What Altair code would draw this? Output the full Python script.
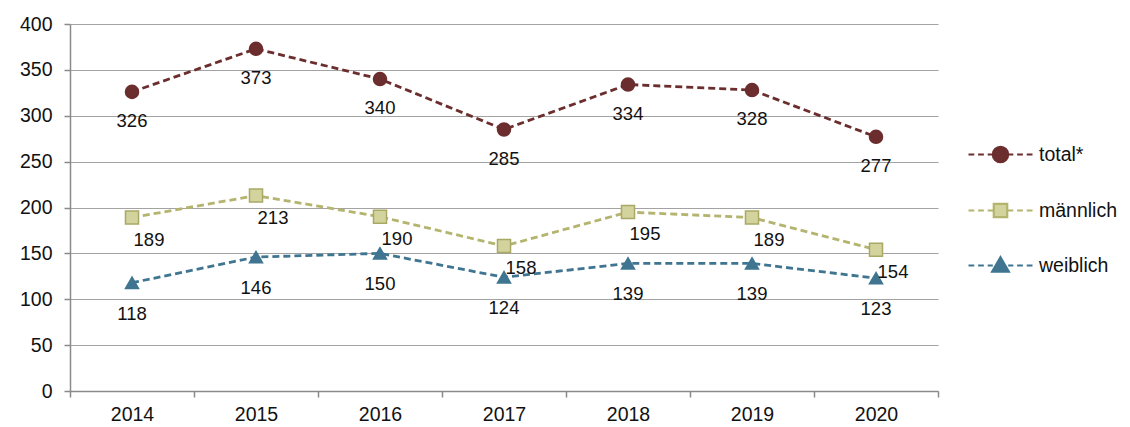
import altair as alt
import pandas as pd

years = ["2014", "2015", "2016", "2017", "2018", "2019", "2020"]
total = [326, 373, 340, 285, 334, 328, 277]
maennlich = [189, 213, 190, 158, 195, 189, 154]
weiblich = [118, 146, 150, 124, 139, 139, 123]
series = ["total*", "männlich", "weiblich"]

line_colors = ["#6b2d2d", "#b4b46f", "#3f7590"]
fill_colors = ["#6b2d2d", "#d3d39d", "#3f7590"]
edge_colors = ["#6b2d2d", "#a9a965", "#3f7590"]

rows = []
for name, vals in zip(series, [total, maennlich, weiblich]):
    for yr, v in zip(years, vals):
        rows.append({"Jahr": yr, "Gruppe": name, "Wert": v, "Legende": name, "Rand": name})
df = pd.DataFrame(rows)

FONT = "Liberation Sans"

x = alt.X("Jahr:N", sort=years,
          scale=alt.Scale(type="band", paddingInner=0, paddingOuter=0),
          axis=alt.Axis(title=None, labelAngle=0, tickBand="extent", grid=False,
                        domainColor="#8a8a8a", domainWidth=1.5, tickColor="#8a8a8a",
                        tickWidth=1.5, tickSize=6, labelPadding=8, labelFontSize=19.5,
                        labelColor="#111111", labelFont=FONT))
y = alt.Y("Wert:Q", scale=alt.Scale(domain=[0, 400]),
          axis=alt.Axis(title=None, values=list(range(0, 401, 50)), grid=True,
                        gridColor="#a3a3a3", gridWidth=1.2, domainColor="#8a8a8a",
                        domainWidth=1.5, tickColor="#8a8a8a", tickWidth=1.5, tickSize=6,
                        labelPadding=12, labelFontSize=19.5, labelColor="#111111",
                        labelFont=FONT))

base = alt.Chart(df)

lines = base.mark_line(strokeDash=[7, 4], strokeWidth=2.8).encode(
    x=x, y=y,
    stroke=alt.Stroke("Gruppe:N", scale=alt.Scale(domain=series, range=line_colors), legend=None),
)

points = base.mark_point(filled=True, size=170, strokeWidth=1.5, opacity=1).encode(
    x=x, y=y,
    shape=alt.Shape("Gruppe:N", scale=alt.Scale(domain=series, range=["circle", "square", "triangle-up"]), legend=None),
    fill=alt.Fill("Gruppe:N", scale=alt.Scale(domain=series, range=fill_colors), legend=None),
    stroke=alt.Stroke("Rand:N", scale=alt.Scale(domain=series, range=edge_colors), legend=None),
)

dash = "M-1,0H-0.82M-0.7,0H-0.52M-0.4,0H-0.24M0.24,0H0.4M0.52,0H0.7M0.82,0H1"
circle = dash + "M-0.24,0A0.24,0.24 0 1,0 0.24,0A0.24,0.24 0 1,0 -0.24,0Z"
square = dash + "M-0.21,-0.21H0.21V0.21H-0.21Z"
triangle = dash + "M0,-0.26L0.26,0.19L-0.26,0.19Z"

leg = alt.Legend(title=None, orient="none", legendX=897, legendY=97, padding=0,
                 symbolSize=4096, symbolStrokeWidth=2.2, symbolOpacity=1,
                 labelFontSize=19.5, labelFont=FONT, labelColor="#111111",
                 labelOffset=5, rowPadding=10)

legend_layer = base.mark_point(filled=True, opacity=0).encode(
    x=x, y=y,
    shape=alt.Shape("Legende:N", scale=alt.Scale(domain=series, range=[circle, square, triangle]), legend=leg),
    fill=alt.Fill("Legende:N", scale=alt.Scale(domain=series, range=fill_colors), legend=leg),
    stroke=alt.Stroke("Legende:N", scale=alt.Scale(domain=series, range=line_colors), legend=leg),
)

def labels(name, dx, dy):
    return base.transform_filter(alt.datum.Gruppe == name).mark_text(
        dx=dx, dy=dy, fontSize=18.5, font=FONT, color="#111111"
    ).encode(x=x, y=y, text=alt.Text("Wert:Q"))

chart = alt.layer(
    lines, points, legend_layer,
    labels("total*", 0, 29), labels("männlich", 17, 22), labels("weiblich", 0, 31),
).resolve_scale(
    stroke="independent", fill="independent", shape="independent"
).properties(
    width=868, height=367,
    padding={"left": 62, "top": 16, "right": 184, "bottom": 36},
    autosize=alt.AutoSizeParams(type="none"),
).configure_view(stroke=None)

chart.save("out.html", embed_options={"renderer": "svg", "actions": False})
